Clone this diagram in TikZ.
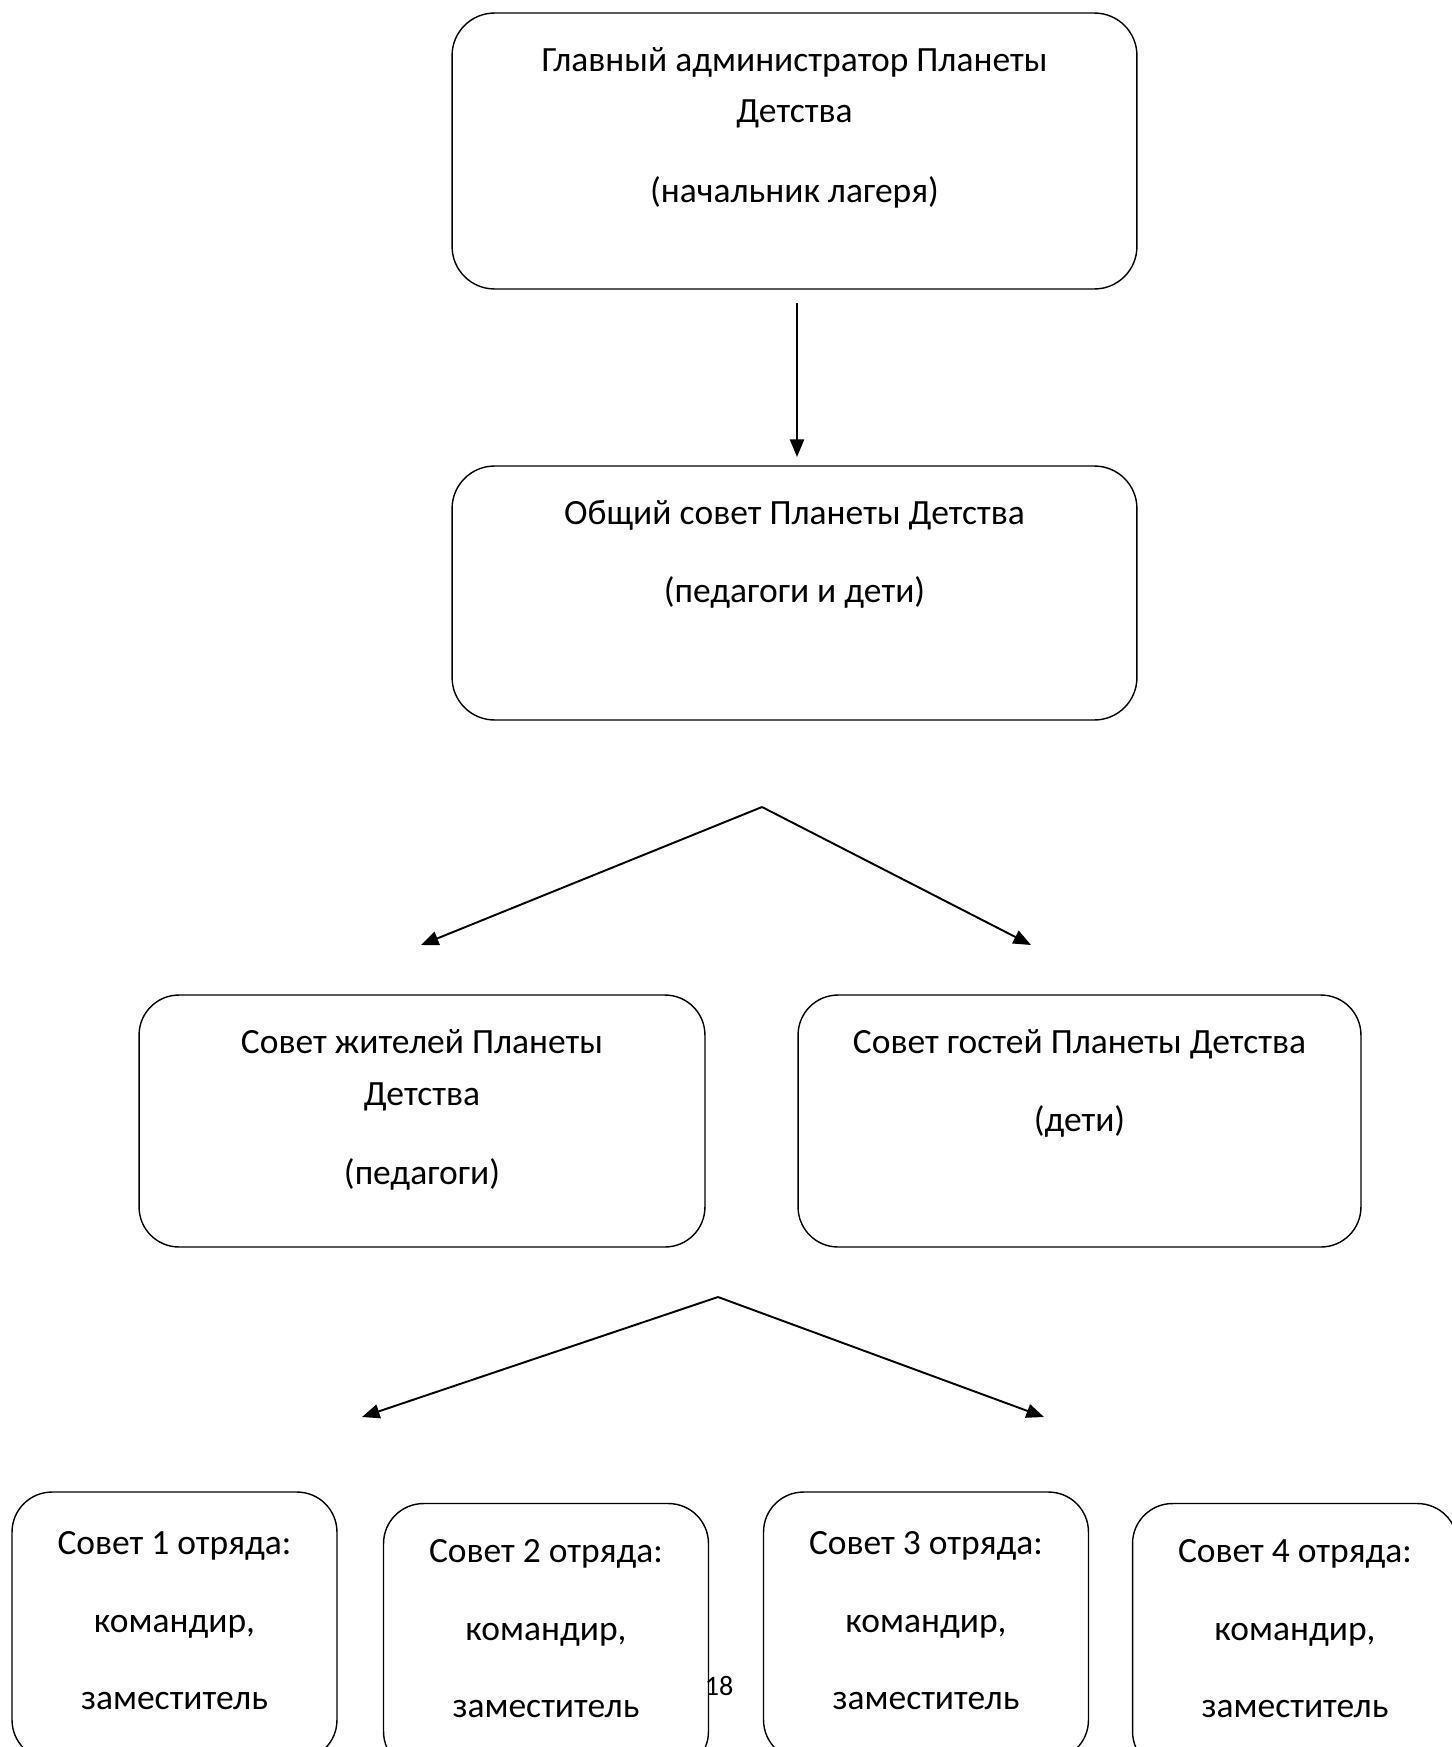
\documentclass[tikz,border=0pt]{standalone}
\usepackage{fontspec}
\setmainfont{Carlito}
\usetikzlibrary{arrows.meta}

\begin{document}
\begin{tikzpicture}[x=0.02cm, y=-0.02cm,
    box/.style={draw, line width=0.8pt, rounded corners=0.85cm, inner sep=0pt},
    smallbox/.style={box, rounded corners=0.8cm, minimum width=6.5cm, minimum height=5.36cm},
    txt/.style={anchor=base, inner sep=0pt, font=\fontsize{20.2}{24}\selectfont},
    arr/.style={line width=1.1pt, -{Triangle[length=10pt, width=8pt]}}]
    % page
    \useasboundingbox (0,0) rectangle (1452,1747);
    \clip (0,0) rectangle (1452,1747);
    % boxes
    \node[box, minimum width=13.7cm, minimum height=5.52cm] (admin) at (794.5,151) {};
    \node[box, minimum width=13.7cm, minimum height=5.08cm] (council) at (794.5,593) {};
    \node[box, rounded corners=0.8cm, minimum width=11.32cm, minimum height=5.04cm] (residents) at (422,1121) {};
    \node[box, rounded corners=0.8cm, minimum width=11.26cm, minimum height=5.04cm] (guests) at (1079.5,1121) {};
    % texts
    \node[txt] (admin-a) at (794.5,72) {Главный администратор Планеты};
    \node[txt] (admin-b) at (794.5,123) {Детства};
    \node[txt] (admin-c) at (794.5,203) {(начальник лагеря)};
    \node[txt] (council-a) at (794.5,524) {Общий совет Планеты Детства};
    \node[txt] (council-b) at (794.5,602) {(педагоги и дети)};
    \node[txt] (residents-a) at (422,1053) {Совет жителей Планеты};
    \node[txt] (residents-b) at (422,1105) {Детства};
    \node[txt] (residents-c) at (422,1184) {(педагоги)};
    \node[txt] (guests-a) at (1079.5,1053) {Совет гостей Планеты Детства};
    \node[txt] (guests-b) at (1079.5,1131) {(дети)};
    % squad councils
    \foreach \i/\cx/\cy/\ty in {1/174.5/1626/1554, 2/546/1637.5/1562, 3/926/1626/1554, 4/1295/1637.5/1562}{
        \node[smallbox] (squad\i) at (\cx,\cy) {};
        \node[txt] (squad\i-a) at (\cx,\ty) {Совет \i{} отряда:};
        \node[txt] (squad\i-b) at (\cx,\ty+78) {командир,};
        \node[txt] (squad\i-c) at (\cx,\ty+155) {заместитель};
    }
    % page number
    \node[anchor=base, inner sep=0pt, font=\fontsize{16}{19}\selectfont] (pagenum) at (719,1695) {18};
    % arrows
    \coordinate (down-a) at (797,303);
    \coordinate (down-b) at (797,457);
    \draw[arr] (down-a) -- (down-b);
    \coordinate (fork1) at (762,807);
    \coordinate (fork1-l) at (421,945);
    \coordinate (fork1-r) at (1031,945);
    \draw[arr] (fork1) -- (fork1-l);
    \draw[arr] (fork1) -- (fork1-r);
    \coordinate (fork2) at (718,1297);
    \coordinate (fork2-l) at (362,1417);
    \coordinate (fork2-r) at (1044,1417);
    \draw[arr] (fork2) -- (fork2-l);
    \draw[arr] (fork2) -- (fork2-r);
\end{tikzpicture}
\end{document}
